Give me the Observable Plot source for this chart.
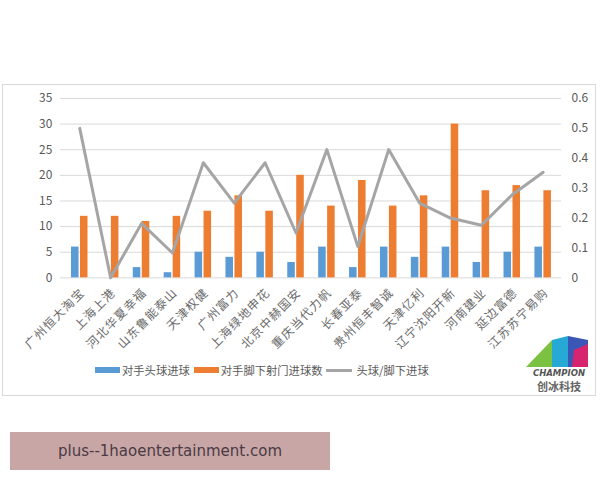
<!DOCTYPE html>
<html><head><meta charset="utf-8">
<script src="https://cdn.jsdelivr.net/npm/d3@7"></script>
<script src="https://cdn.jsdelivr.net/npm/@observablehq/plot@0.6"></script>
<style>
body{margin:0;width:600px;height:480px;background:#fff;position:relative;font-family:"Noto Sans CJK SC","Noto Sans",sans-serif;overflow:hidden}
#frame{position:absolute;left:2px;top:84px;width:594px;height:312px;border:1px solid #d9d9d9;box-sizing:border-box}
#chart{position:absolute;left:0;top:1px}
#chart g[aria-label="x-axis tick label"] text{letter-spacing:1.2px}
#legend{position:absolute;left:95px;top:362px;font-size:11.3px;line-height:16px;color:#595959;display:flex;align-items:center;white-space:nowrap}
#legend .sw{display:inline-block;width:25px;height:6px;margin-right:2px}
#legend .ln{display:inline-block;width:26px;height:3px;background:#a5a5a5;margin-right:4px}
#legend span.t{margin-right:4px}
#logo{position:absolute;left:524px;top:334px;width:70px;height:60px}
#wm{position:absolute;left:10px;top:432px;width:320px;height:38px;background:#c9a6a6;color:#4a3a44;font-family:"DejaVu Sans",sans-serif;font-size:15px;line-height:38px;text-align:center}
</style></head>
<body>
<div id="frame"><div id="chart"></div></div>
<div id="legend">
  <span class="sw" style="background:#5b9bd5"></span><span class="t">对手头球进球</span>
  <span class="sw" style="background:#ed7d31"></span><span class="t">对手脚下射门进球数</span>
  <span class="ln"></span><span class="t">头球/脚下进球</span>
</div>
<div id="logo">
  <svg width="70" height="33" viewBox="0 0 70 33" style="position:absolute;left:0;top:0">
    <polygon points="2,33 28,6 28,33" fill="#7cc242"/>
    <polygon points="28,6 44,2 44,33 28,33" fill="#27a9d6"/>
    <polygon points="44,2 64,6 64,33 44,33" fill="#3b57b6"/>
    <polygon points="50,16 64,10 64,33 48,33" fill="#d6246e"/>
  </svg>
  <div style="position:absolute;left:0;top:35px;width:70px;text-align:center;font-family:'DejaVu Sans',sans-serif;font-weight:bold;font-style:italic;font-size:8.5px;color:#555;line-height:9px">CHAMPION</div>
  <div style="position:absolute;left:0;top:46px;width:70px;text-align:center;font-size:11px;color:#666;line-height:12px;font-weight:bold">创冰科技</div>
</div>
<div id="wm">plus--1haoentertainment.com</div>
<script>
const teams = ["广州恒大淘宝","上海上港","河北华夏幸福","山东鲁能泰山","天津权健","广州富力","上海绿地申花","北京中赫国安","重庆当代力帆","长春亚泰","贵州恒丰智诚","天津亿利","辽宁沈阳开新","河南建业","延边富德","江苏苏宁易购"];
const headGoals = [6,0,2,1,5,4,5,3,6,2,6,4,6,3,5,6];
const footGoals = [12,12,11,12,13,16,13,20,14,19,14,16,30,17,18,17];
const ratio = [0.5,0,0.182,0.083,0.385,0.25,0.385,0.15,0.429,0.105,0.429,0.25,0.2,0.176,0.278,0.353];
const leftTicks = [0,5,10,15,20,25,30,35];
const rightTicks = [0,0.1,0.2,0.3,0.4,0.5,0.6];

const k = 35 / 0.6;
const rows = teams.map((t,i)=>({team:t, head:headGoals[i], foot:footGoals[i], r:ratio[i]*k}));
const W = 594, ML = 57, MR = 34;
const bw = (W - ML - MR) / teams.length;

const chart = Plot.plot({
  width: W, height: 270,
  marginTop: 12, marginBottom: 78, marginLeft: ML, marginRight: MR,
  style: {fontFamily: '"Noto Sans CJK SC", sans-serif', fontSize: "11.5px", color: "#595959", background: "transparent"},
  x: {type: "band", domain: teams, padding: 0},
  y: {domain: [0, 35]},
  marks: [
    Plot.ruleY(leftTicks, {stroke: "#d9d9d9", strokeWidth: 1}),
    Plot.axisY({ticks: leftTicks, tickSize: 0, tickPadding: 8, label: null, fontSize: 12}),
    Plot.axisY({anchor: "right", ticks: rightTicks.map(d=>d*k), tickFormat: d => d === 0 ? "0" : (d/k).toFixed(1), tickSize: 0, tickPadding: 10, label: null, fontSize: 12}),
    Plot.axisX({tickRotate: -45, tickSize: 0, tickPadding: 13, dx: 3, label: null, fontSize: 12, fill: "#6a6a6a"}),
    Plot.barY(rows, {x: "team", y: "head", fill: "#5b9bd5", insetLeft: bw/2 - 8.5, insetRight: bw/2 + 0.5}),
    Plot.barY(rows, {x: "team", y: "foot", fill: "#ed7d31", insetLeft: bw/2 + 0.5, insetRight: bw/2 - 8.5}),
    Plot.lineY(rows, {x: "team", y: "r", stroke: "#a5a5a5", strokeWidth: 3})
  ]
});
document.getElementById("chart").appendChild(chart);
</script>
</body></html>
